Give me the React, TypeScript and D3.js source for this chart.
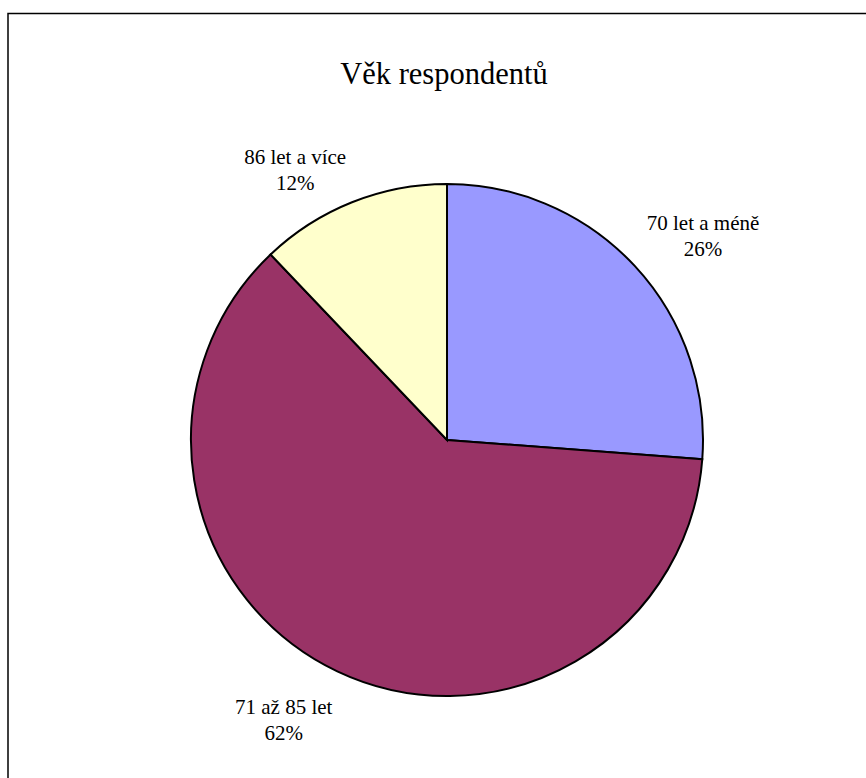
import React, { useEffect, useRef } from "react";
import * as d3 from "d3";

const categories = ["70 let a méně", "71 až 85 let", "86 let a více"];
const values = [26.2, 61.7, 12.1];
const colors = ["#9999FF", "#993366", "#FFFFCC"];
const title = "Věk respondentů";

const W = 866;
const H = 778;
const FONT = "'Liberation Serif', 'DejaVu Serif', 'Times New Roman', serif";

export default function App() {
  const ref = useRef<SVGSVGElement | null>(null);

  useEffect(() => {
    const svg = d3.select(ref.current);
    svg.selectAll("*").remove();

    svg
      .append("rect")
      .attr("x", 8)
      .attr("y", 13.5)
      .attr("width", W + 20)
      .attr("height", H + 20)
      .attr("fill", "#fff")
      .attr("stroke", "#000")
      .attr("stroke-width", 1.5);

    svg
      .append("text")
      .attr("x", 444)
      .attr("y", 84)
      .attr("text-anchor", "middle")
      .style("font-family", FONT)
      .attr("font-size", 30.5)
      .attr("fill", "#000")
      .text(title);

    const cx = 447;
    const cy = 440;
    const r = 256;

    const total = d3.sum(values);
    const pie = d3
      .pie<number>()
      .sort(null)
      .value((d) => d)
      .startAngle(0)
      .endAngle(2 * Math.PI);
    const arcs = pie(values);
    const arc = d3.arc<d3.PieArcDatum<number>>().innerRadius(0).outerRadius(r);

    const g = svg.append("g").attr("transform", `translate(${cx},${cy})`);
    g.selectAll("path")
      .data(arcs)
      .enter()
      .append("path")
      .attr("d", arc)
      .attr("fill", (_, i) => colors[i])
      .attr("stroke", "#000")
      .attr("stroke-width", 2)
      .attr("stroke-linejoin", "miter");

    const labelRadius = [r + 40, r + 48, r + 40];
    const labelOffsets = [
      [39, -9],
      [-33, -1],
      [-42, -1],
    ];
    const lbl = svg.append("g");
    arcs.forEach((a, i) => {
      const mid = (a.startAngle + a.endAngle) / 2;
      const lr = labelRadius[i];
      const x = cx + Math.sin(mid) * lr + labelOffsets[i][0];
      const y = cy - Math.cos(mid) * lr + labelOffsets[i][1];
      const t = lbl
        .append("text")
        .attr("text-anchor", "middle")
        .style("font-family", FONT)
        .attr("font-size", 21)
        .attr("fill", "#000");
      t.append("tspan").attr("x", x).attr("y", y).text(categories[i]);
      t.append("tspan")
        .attr("x", x)
        .attr("y", y + 26)
        .text(`${Math.round((values[i] / total) * 100)}%`);
    });
  }, []);

  return (
    <svg
      ref={ref}
      width={W}
      height={H}
      style={{ position: "absolute", left: 0, top: 0, display: "block" }}
    />
  );
}
